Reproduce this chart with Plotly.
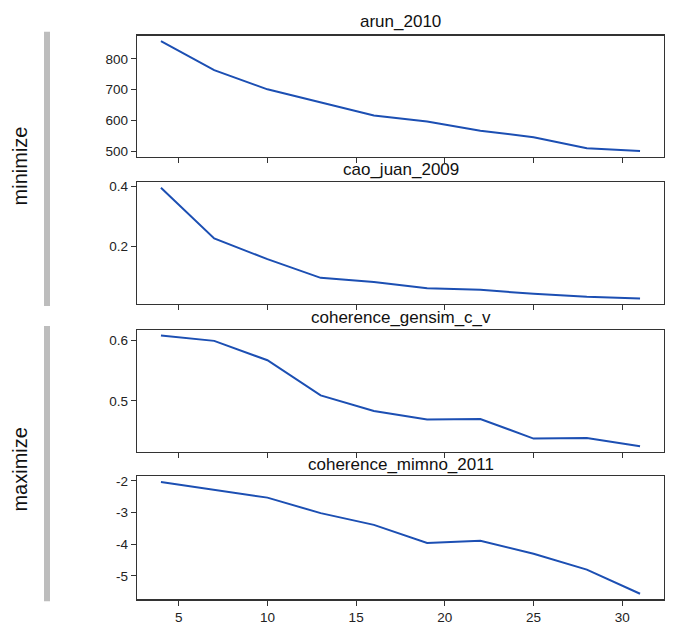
import plotly.graph_objects as go

# ---- data ----
n_topics = [4, 7, 10, 13, 16, 19, 22, 25, 28, 31]
arun_2010 = [857, 763, 701, 658, 616, 597, 567, 546, 510, 501]
cao_juan_2009 = [0.394, 0.226, 0.157, 0.095, 0.081, 0.060, 0.055, 0.042, 0.032, 0.026]
coherence_gensim_c_v = [0.608, 0.599, 0.567, 0.509, 0.483, 0.469, 0.470, 0.4375, 0.4386, 0.425]
coherence_mimno_2011 = [-2.04, -2.29, -2.53, -3.02, -3.39, -3.96, -3.89, -4.30, -4.80, -5.56]

titles = ["arun_2010", "cao_juan_2009", "coherence_gensim_c_v", "coherence_mimno_2011"]
series = [arun_2010, cao_juan_2009, coherence_gensim_c_v, coherence_mimno_2011]
y_ticks = [[500, 600, 700, 800], [0.2, 0.4], [0.5, 0.6], [-5, -4, -3, -2]]
y_ticktext = [["500", "600", "700", "800"], ["0.2", "0.4"], ["0.5", "0.6"], ["-5", "-4", "-3", "-2"]]
x_ticks = [5, 10, 15, 20, 25, 30]
groups = ["minimize", "maximize"]

# ---- layout geometry (pixels) ----
W, H = 687, 633
box_x = (137, 664)
box_y = [(32, 154), (180, 303), (329, 452), (477, 601)]
title_y = [18, 167, 317, 465]
bar_y = [(28, 305), (325, 603)]
group_label_y = [164, 470]

FONT = "Liberation Sans"
LINE_COLOR = "#1c4fb3"
AX_COLOR = "#333333"


def px_x(x):
    return x / W


def px_y(y):
    return 1 - y / H


def padded(vals, frac=0.05):
    lo, hi = min(vals), max(vals)
    m = (hi - lo) * frac
    return [lo - m, hi + m]


fig = go.Figure()
xr = padded(n_topics)

for i, (vals, title) in enumerate(zip(series, titles)):
    k = "" if i == 0 else str(i + 1)
    fig.add_trace(go.Scatter(
        x=n_topics, y=vals, mode="lines",
        line=dict(color=LINE_COLOR, width=2),
        xaxis="x" + k, yaxis="y" + k, showlegend=False,
        hoverinfo="skip"))
    y0, y1 = box_y[i]
    fig.update_layout(**{
        "xaxis" + k: dict(
            domain=[px_x(box_x[0]), px_x(box_x[1])],
            anchor="y" + k, range=xr,
            tickmode="array", tickvals=x_ticks,
            ticktext=[str(t) for t in x_ticks],
            showticklabels=(i == 3),
            ticks="outside", ticklen=5, tickcolor=AX_COLOR, tickwidth=1,
            showline=True, mirror=True, linecolor=AX_COLOR, linewidth=1.2,
            showgrid=False, zeroline=False,
            tickfont=dict(family=FONT, size=13.5, color="#222222"),
        ),
        "yaxis" + k: dict(
            domain=[px_y(y1), px_y(y0)],
            anchor="x" + k, range=padded(vals),
            tickmode="array", tickvals=y_ticks[i], ticktext=y_ticktext[i],
            ticks="outside", ticklen=5, tickcolor=AX_COLOR, tickwidth=1,
            showline=True, mirror=True, linecolor=AX_COLOR, linewidth=1.2,
            showgrid=False, zeroline=False,
            tickfont=dict(family=FONT, size=13.5, color="#222222"),
        ),
    })
    fig.add_annotation(
        x=(px_x(box_x[0]) + px_x(box_x[1])) / 2, y=px_y(title_y[i]),
        xref="paper", yref="paper", text=title, showarrow=False,
        xanchor="center", yanchor="middle",
        font=dict(family=FONT, size=17, color="#111111"))

for (y0, y1), label, ly in zip(bar_y, groups, group_label_y):
    fig.add_shape(type="rect", xref="paper", yref="paper",
                  x0=px_x(44), x1=px_x(50), y0=px_y(y1), y1=px_y(y0),
                  fillcolor="#bdbdbd", line=dict(width=0))
    fig.add_annotation(x=px_x(20), y=px_y(ly), xref="paper", yref="paper",
                       text=label, textangle=-90, showarrow=False,
                       xanchor="center", yanchor="middle",
                       font=dict(family=FONT, size=20, color="#111111"))

fig.update_layout(
    width=W, height=H, autosize=False,
    margin=dict(l=0, r=0, t=0, b=0),
    paper_bgcolor="white", plot_bgcolor="white",
)

fig.write_html("out.html",
               config={"displayModeBar": False, "staticPlot": True},
               post_script="document.body.style.margin='0';document.body.style.overflow='hidden';")
